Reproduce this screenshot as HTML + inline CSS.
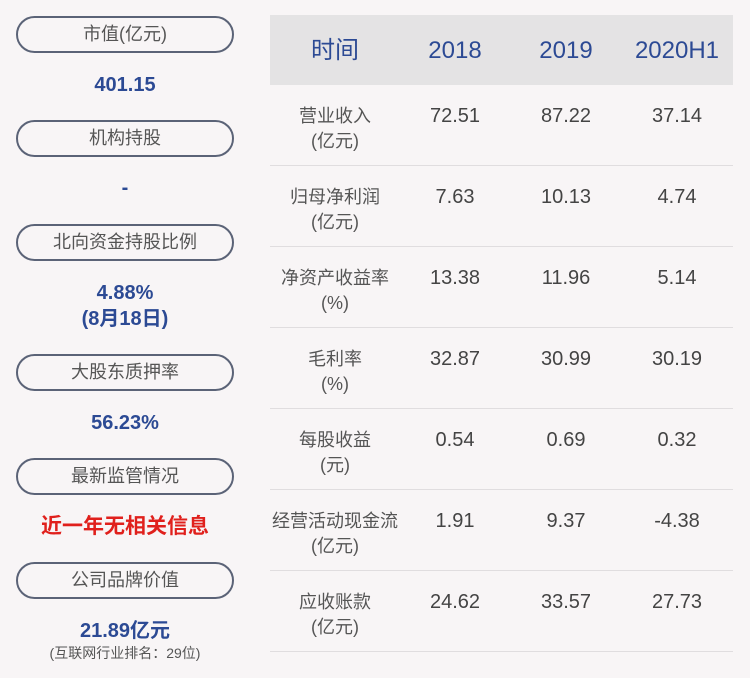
<!DOCTYPE html>
<html><head><meta charset="utf-8"><style>
body{margin:0;width:750px;height:678px;background:#f8f5f6;position:relative;overflow:hidden;font-family:"Liberation Sans","Noto Sans CJK SC",sans-serif}
.p{position:absolute;left:16px;width:214px;height:33px;border:2px solid #5b6377;border-radius:19px;text-align:center;line-height:33px;font-size:18px;color:#555}
.v{position:absolute;left:0;width:250px;text-align:center;color:#2c4a94;font-size:20px;line-height:26px;font-weight:bold}
.hd{position:absolute;left:270px;top:15px;width:463px;height:70px;background:#e4e3e4}
.h{position:absolute;top:16px;height:70px;line-height:70px;text-align:center;color:#2c4a94;font-size:24px;width:120px}
.l{position:absolute;left:270px;width:463px;height:1px;background:#e0dddf}
.c{position:absolute;width:130px;text-align:center;color:#555;font-size:18px;line-height:25px}
.n{position:absolute;width:110px;text-align:center;color:#444;font-size:20px;line-height:25px}
</style></head><body>
<div class="p" style="top:16px">市值(亿元)</div>
<div class="v" style="top:72px">401.15</div>
<div class="p" style="top:120px">机构持股</div>
<div class="v" style="top:175px">-</div>
<div class="p" style="top:224px">北向资金持股比例</div>
<div class="v" style="top:280px">4.88%</div>
<div class="v" style="top:306px">(8月18日)</div>
<div class="p" style="top:354px">大股东质押率</div>
<div class="v" style="top:410px">56.23%</div>
<div class="p" style="top:458px">最新监管情况</div>
<div class="v" style="top:514px;color:#e0201c;font-size:21px">近一年无相关信息</div>
<div class="p" style="top:562px">公司品牌价值</div>
<div class="v" style="top:618px">21.89亿元</div>
<div class="v" style="top:643px;font-size:14px;line-height:20px;color:#555;font-weight:normal">(互联网行业排名：29位)</div>

<div class="hd"></div>
<div class="h" style="left:275px">时间</div>
<div class="h" style="left:395px">2018</div>
<div class="h" style="left:506px">2019</div>
<div class="h" style="left:617px">2020H1</div>

<div class="c" style="left:270px;top:104px">营业收入<br>(亿元)</div>
<div class="n" style="left:400px;top:104px">72.51</div><div class="n" style="left:511px;top:104px">87.22</div><div class="n" style="left:622px;top:104px">37.14</div>
<div class="l" style="top:165px"></div>
<div class="c" style="left:270px;top:185px">归母净利润<br>(亿元)</div>
<div class="n" style="left:400px;top:185px">7.63</div><div class="n" style="left:511px;top:185px">10.13</div><div class="n" style="left:622px;top:185px">4.74</div>
<div class="l" style="top:246px"></div>
<div class="c" style="left:270px;top:266px">净资产收益率<br>(%)</div>
<div class="n" style="left:400px;top:266px">13.38</div><div class="n" style="left:511px;top:266px">11.96</div><div class="n" style="left:622px;top:266px">5.14</div>
<div class="l" style="top:327px"></div>
<div class="c" style="left:270px;top:347px">毛利率<br>(%)</div>
<div class="n" style="left:400px;top:347px">32.87</div><div class="n" style="left:511px;top:347px">30.99</div><div class="n" style="left:622px;top:347px">30.19</div>
<div class="l" style="top:408px"></div>
<div class="c" style="left:270px;top:428px">每股收益<br>(元)</div>
<div class="n" style="left:400px;top:428px">0.54</div><div class="n" style="left:511px;top:428px">0.69</div><div class="n" style="left:622px;top:428px">0.32</div>
<div class="l" style="top:489px"></div>
<div class="c" style="left:270px;top:509px">经营活动现金流<br>(亿元)</div>
<div class="n" style="left:400px;top:509px">1.91</div><div class="n" style="left:511px;top:509px">9.37</div><div class="n" style="left:622px;top:509px">-4.38</div>
<div class="l" style="top:570px"></div>
<div class="c" style="left:270px;top:590px">应收账款<br>(亿元)</div>
<div class="n" style="left:400px;top:590px">24.62</div><div class="n" style="left:511px;top:590px">33.57</div><div class="n" style="left:622px;top:590px">27.73</div>
<div class="l" style="top:651px"></div>
</body></html>
